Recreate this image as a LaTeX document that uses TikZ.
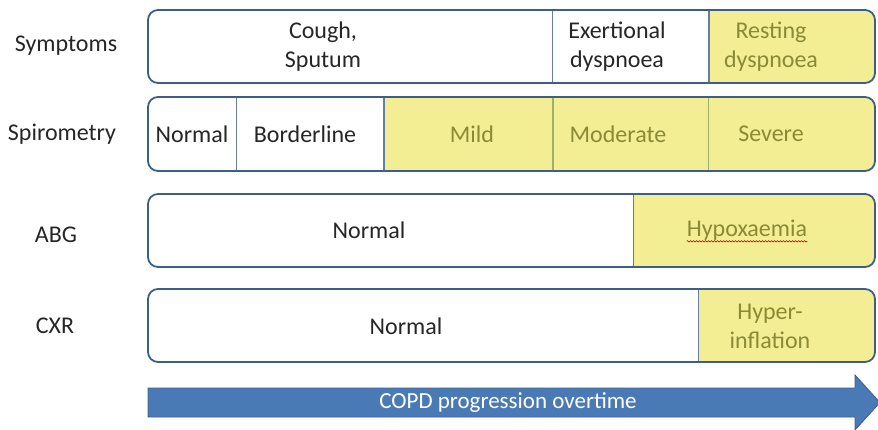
\documentclass[tikz,border=0pt]{standalone}
\usepackage{fontspec}
\setmainfont{Carlito}
\usetikzlibrary{positioning, decorations.pathmorphing}

\definecolor{rowblue}{HTML}{3E5E8A}
\definecolor{cellyellow}{HTML}{F3EE94}
\definecolor{sepgreen}{HTML}{9DB266}
\definecolor{olivetext}{HTML}{8A8A36}
\definecolor{labelgray}{HTML}{262626}
\definecolor{arrowblue}{HTML}{4A7AB5}

\begin{document}
\begin{tikzpicture}[x=1pt,y=-1pt,
  cell/.style={anchor=west,inner sep=0pt,minimum height=74pt},
  white cell/.style={cell,fill=white},
  yellow cell/.style={cell,fill=cellyellow},
  row box/.style={draw=rowblue,line width=1.8pt,rounded corners=10pt},
  blue sep/.style={draw=rowblue!80,line width=1.6pt},
  green sep/.style={draw=sepgreen,line width=1.6pt},
  txt/.style={font=\fontsize{24}{29}\selectfont,text=labelgray,align=center,inner sep=0pt},
  ytxt/.style={txt,text=olivetext}]

  \useasboundingbox (0,0) rectangle (878,429);

  % row labels
  \node[txt] (lab1) at (66,46) {Symptoms};
  \node[txt] (lab2) at (62,134) {Spirometry};
  \node[txt] (lab3) at (56,235) {ABG};
  \node[txt] (lab4) at (55,326) {CXR};

  % Symptoms
  \begin{scope}
    \clip[rounded corners=10pt] (148,10) rectangle (875,83);
    \node[white cell, minimum width=404pt] (s1) at (148,46.5) {};
    \node[white cell, minimum width=156pt, right=0pt of s1] (s2) {};
    \node[yellow cell, minimum width=167pt, right=0pt of s2] (s3) {};
  \end{scope}
  \draw[blue sep] (s1.north east) -- (s1.south east);
  \draw[blue sep] (s2.north east) -- (s2.south east);
  \draw[row box] (148,10) rectangle (875,83);
  \node[txt] (ts1) at (323,47) {Cough,\\Sputum};
  \node[txt] (ts2) at (617,47) {Exertional\\dyspnoea};
  \node[ytxt] (ts3) at (771,47) {Resting\\dyspnoea};

  % Spirometry
  \begin{scope}
    \clip[rounded corners=10pt] (148,97) rectangle (875,171);
    \node[white cell, minimum width=88pt] (p1) at (148,134) {};
    \node[white cell, minimum width=147pt, right=0pt of p1] (p2) {};
    \node[yellow cell, minimum width=169pt, right=0pt of p2] (p3) {};
    \node[yellow cell, minimum width=155pt, right=0pt of p3] (p4) {};
    \node[yellow cell, minimum width=168pt, right=0pt of p4] (p5) {};
  \end{scope}
  \draw[blue sep] (p1.north east) -- (p1.south east);
  \draw[blue sep] (p2.north east) -- (p2.south east);
  \draw[green sep] (p3.north east) -- (p3.south east);
  \draw[green sep] (p4.north east) -- (p4.south east);
  \draw[row box] (148,97) rectangle (875,171);
  \node[txt] (tp1) at (192,134) {Normal};
  \node[txt] (tp2) at (305,134) {Borderline};
  \node[ytxt] (tp3) at (472,134) {Mild};
  \node[ytxt] (tp4) at (618,134) {Moderate};
  \node[ytxt] (tp5) at (771,134) {Severe};

  % ABG
  \begin{scope}
    \clip[rounded corners=10pt] (148,194) rectangle (875,267);
    \node[white cell, minimum width=485pt] (a1) at (148,230.5) {};
    \node[yellow cell, minimum width=242pt, right=0pt of a1] (a2) {};
  \end{scope}
  \draw[blue sep] (a1.north east) -- (a1.south east);
  \draw[row box] (148,194) rectangle (875,267);
  \node[txt] (ta1) at (369,230) {Normal};
  \node[ytxt] (ta2) at (747,230) {Hypoxaemia};
  \draw[red!80!black,line width=0.6pt,decorate,
    decoration={snake,amplitude=0.7pt,segment length=3pt}]
    ([yshift=-5pt]ta2.base west) -- ([yshift=-5pt]ta2.base east);

  % CXR
  \begin{scope}
    \clip[rounded corners=10pt] (148,289) rectangle (875,362);
    \node[white cell, minimum width=550pt] (c1) at (148,325.5) {};
    \node[yellow cell, minimum width=177pt, right=0pt of c1] (c2) {};
  \end{scope}
  \draw[blue sep] (c1.north east) -- (c1.south east);
  \draw[row box] (148,289) rectangle (875,362);
  \node[txt] (tc1) at (406,326) {Normal};
  \node[ytxt] (tc2) at (770,326) {Hyper-\\inflation};

  % progression arrow
  \draw[fill=arrowblue,draw=rowblue,line width=0.8pt]
    (148,388) -- (855,388) -- (855,375) -- (880,402.5)
    -- (855,430) -- (855,417) -- (148,417) -- cycle;
  \node[txt,text=white,font=\fontsize{23}{26}\selectfont] (copd) at (508,402.5) {COPD progression overtime};
\end{tikzpicture}
\end{document}
